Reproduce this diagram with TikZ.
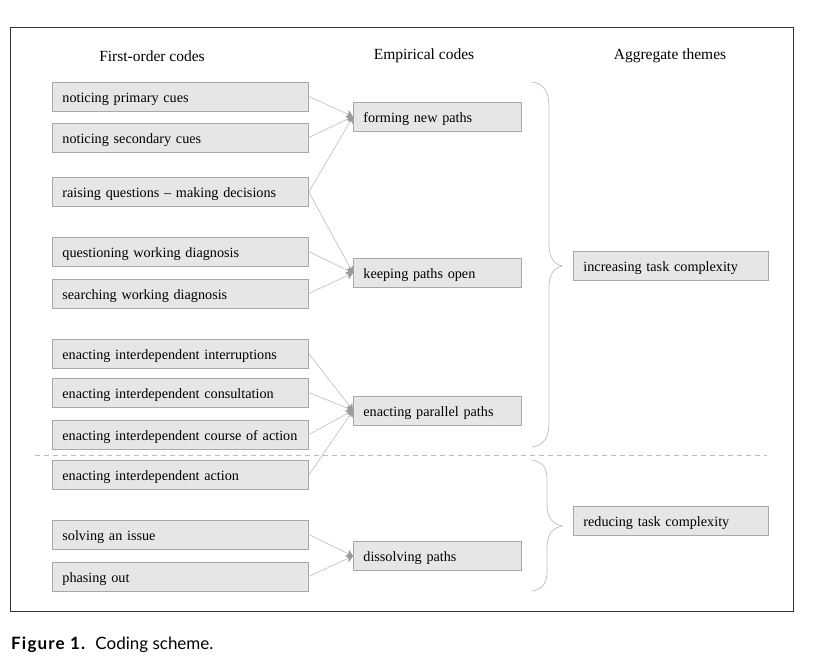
\documentclass[tikz,border=0pt]{standalone}
\usepackage{fontspec}
\setmainfont{Liberation Serif}
\newfontfamily\capfont{Lato}
\newfontfamily\capfontwide[LetterSpace=7]{Lato}
\usetikzlibrary{arrows.meta}
\definecolor{boxfill}{HTML}{E6E6E6}
\definecolor{boxline}{HTML}{A8A8A8}
\definecolor{connline}{HTML}{BDBDBD}
\definecolor{tipcol}{HTML}{9A9A9A}
\definecolor{framecol}{HTML}{333333}
\begin{document}
\begin{tikzpicture}[x=1pt,y=-1pt,
  font=\fontsize{14.2}{16}\selectfont,
  codebox/.style={draw=boxline, fill=boxfill, line width=0.8pt, minimum height=29pt,
    inner xsep=10pt, inner ysep=0pt, anchor=west, align=left, text height=11pt, text depth=0pt},
  lbox/.style={codebox, text width=236pt},
  mbox/.style={codebox, text width=148pt},
  rbox/.style={codebox, text width=175pt},
  header/.style={font=\fontsize{15.5}{17}\selectfont},
  conn/.style={draw=connline, line width=0.6pt, -{Stealth[length=6.5pt,width=8pt,inset=1.5pt,color=tipcol]}},
  bracecurve/.style={draw=connline, line width=0.7pt},
]
\useasboundingbox (0,0) rectangle (817,665);
\draw[framecol, line width=1pt] (10,27) rectangle (793,611);

\node[header] (h1) at (152,56) {First-order codes};
\node[header] (h2) at (424,56) {Empirical codes};
\node[header] (h3) at (670,56) {Aggregate themes};

\node[lbox] (a1) at (52,96.5) {noticing primary cues};
\node[lbox] (a2) at (52,137.5) {noticing secondary cues};
\node[lbox] (a3) at (52,192) {raising questions -- making decisions};
\node[lbox] (a4) at (52,251.5) {questioning working diagnosis};
\node[lbox] (a5) at (52,293.5) {searching working diagnosis};
\node[lbox] (a6) at (52,353.5) {enacting interdependent interruptions};
\node[lbox] (a7) at (52,392.5) {enacting interdependent consultation};
\node[lbox] (a8) at (52,434.5) {enacting interdependent course of action};
\node[lbox] (a9) at (52,475) {enacting interdependent action};
\node[lbox] (a10) at (52,534.5) {solving an issue};
\node[lbox] (a11) at (52,576.5) {phasing out};

\node[mbox] (m1) at (353,116.5) {forming new paths};
\node[mbox] (m2) at (353,273) {keeping paths open};
\node[mbox] (m3) at (353,410.5) {enacting parallel paths};
\node[mbox] (m4) at (353,556) {dissolving paths};

\node[rbox] (r1) at (573,266) {increasing task complexity};
\node[rbox] (r2) at (573,520.5) {reducing task complexity};

\foreach \s/\t in {a1/m1,a2/m1,a3/m1,a3/m2,a4/m2,a5/m2,a6/m3,a7/m3,a8/m3,a9/m3,a10/m4,a11/m4}
  \draw[conn] (\s.east) -- (\t.west);

% braces
\draw[bracecurve] (532,82) .. controls (545,84) and (549,92) .. (549,108)
  -- (549,244) .. controls (549,258) and (554,264) .. (562,266)
  .. controls (554,268) and (549,274) .. (549,288)
  -- (549,421) .. controls (549,437) and (545,445) .. (532,447);
\draw[bracecurve] (532,460) .. controls (543,462) and (547,468) .. (547,480)
  -- (547,505) .. controls (547,518) and (553,524) .. (562,526)
  .. controls (553,528) and (547,534) .. (547,547)
  -- (547,571) .. controls (547,583) and (543,589) .. (532,591);

\draw[connline, line width=0.7pt, dash pattern=on 5pt off 4pt] (35,455) -- (767,455);

\node[anchor=base west, inner sep=0pt, font=\capfont\fontsize{17}{19}\selectfont] (cap) at (11,649)
  {{\capfontwide\bfseries Figure 1.}\hspace{0.6em}Coding scheme.};
\end{tikzpicture}
\end{document}
